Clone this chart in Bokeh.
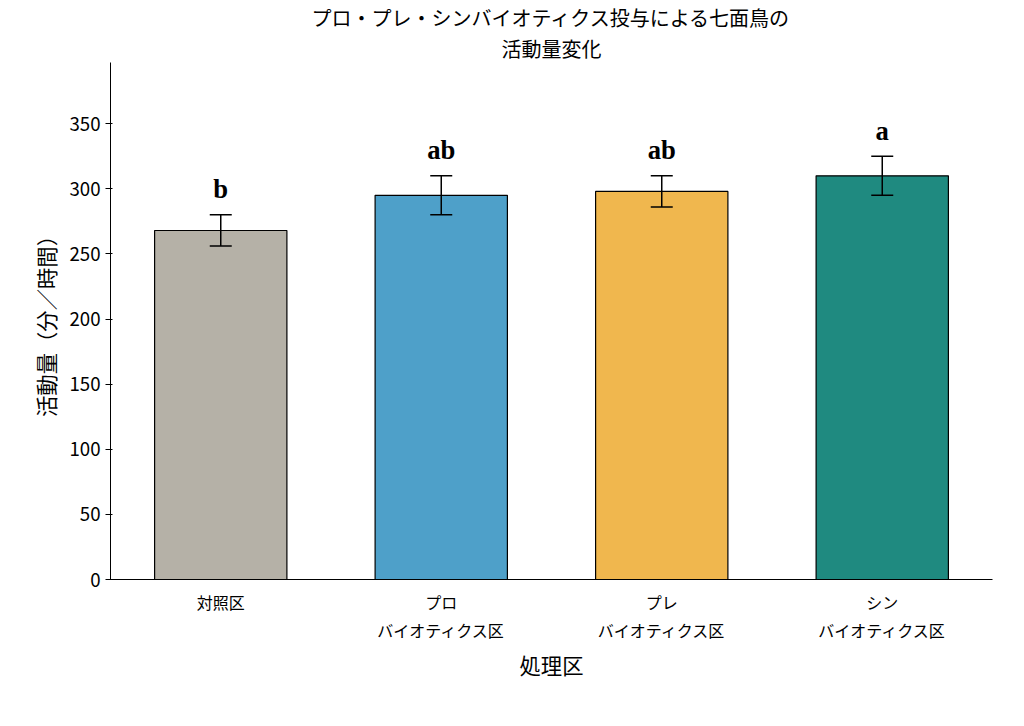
from bokeh.plotting import figure
from bokeh.models import ColumnDataSource, Whisker, Title, LabelSet, Range1d
from bokeh.embed import file_html
from bokeh.resources import INLINE

cats = ["対照区", "プロ\nバイオティクス区", "プレ\nバイオティクス区", "シン\nバイオティクス区"]
vals = [268, 295, 298, 310]
errs = [12, 15, 12, 15]
sig = ["b", "ab", "ab", "a"]
colors = ["#b5b1a7", "#4ea0c9", "#f0b74e", "#1f8a80"]

F = "Noto Sans CJK JP"
src = ColumnDataSource(dict(x=cats, top=vals, lo=[v - e for v, e in zip(vals, errs)],
                            hi=[v + e for v, e in zip(vals, errs)], c=colors, s=sig,
                            sy=[v + e + 8 for v, e in zip(vals, errs)]))

p = figure(x_range=cats, y_range=Range1d(0, 397), frame_width=882, frame_height=517,
           min_border_left=110, min_border_top=38, min_border_right=16, min_border_bottom=4,
           output_backend="svg", toolbar_location=None)
p.add_layout(Title(text="活動量変化", align="center", text_font=F, text_font_size="15pt",
                   text_font_style="normal", text_color="black", standoff=0, offset=0), "above")
p.add_layout(Title(text="プロ・プレ・シンバイオティクス投与による七面鳥の", align="center", text_font=F,
                   text_font_size="15pt", text_font_style="normal", text_color="black", standoff=0), "above")
p.vbar(x="x", top="top", width=0.6, source=src, fill_color="c", line_color="black", line_width=1.2)
w = Whisker(source=src, base="x", lower="lo", upper="hi", line_color="black", line_width=1.5, level="overlay")
w.upper_head.line_color = "black"; w.lower_head.line_color = "black"
w.upper_head.size = 22; w.lower_head.size = 22
w.upper_head.line_width = 1.5; w.lower_head.line_width = 1.5
p.add_layout(w)
p.add_layout(LabelSet(x="x", y="sy", text="s", source=src, text_align="center", text_baseline="bottom",
                      text_font_size="20pt", text_font_style="bold", text_font="Liberation Sans",
                      text_color="black"))
p.xgrid.visible = False; p.ygrid.visible = False
p.outline_line_color = None
p.x_range.range_padding = 0
p.yaxis.ticker = [0, 50, 100, 150, 200, 250, 300, 350]
p.yaxis.axis_label = "活動量（分／時間）"
p.xaxis.axis_label = "処理区"
for ax in (p.xaxis, p.yaxis):
    ax.axis_label_text_font = F
    ax.axis_label_text_font_size = "16pt"
    ax.axis_label_text_font_style = "normal"
    ax.axis_label_text_color = "black"
    ax.major_label_text_font = F
    ax.major_label_text_color = "black"
    ax.axis_line_color = "black"
    ax.major_tick_line_color = "black"
    ax.minor_tick_line_color = None
    ax.major_tick_out = 5
p.yaxis.major_label_text_font_size = "14pt"
p.xaxis.major_label_text_font_size = "12pt"
p.xaxis.major_tick_line_color = None
p.xaxis.axis_label_standoff = 4
open("out.html", "w").write(file_html(p, INLINE))
